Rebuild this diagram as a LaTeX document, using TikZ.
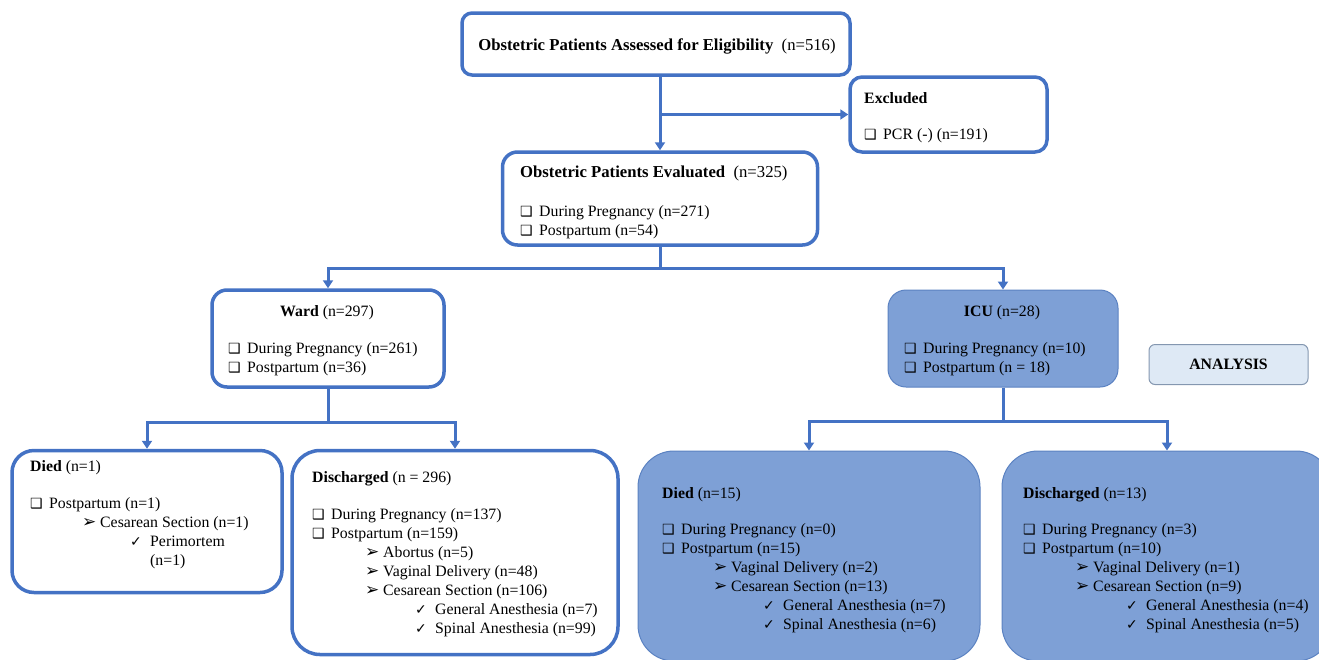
\documentclass[tikz,border=0pt]{standalone}
\usepackage{fontspec}
\setmainfont{Liberation Serif}
\newfontfamily\symfont{DejaVu Sans}
\usetikzlibrary{positioning,calc,arrows.meta}

\definecolor{boxblue}{HTML}{4472C4}
\definecolor{icufill}{HTML}{7EA0D6}
\definecolor{icuedge}{HTML}{5B82C2}
\definecolor{anafill}{HTML}{DEE9F5}
\definecolor{anaedge}{HTML}{8497B0}

% list markers
\newcommand{\sqb}{\makebox[19pt][l]{\fontsize{14}{14}\symfont ❑}}
\newcommand{\arb}{\makebox[18pt][l]{\fontsize{17}{17}\symfont ➢}}
\newcommand{\ckb}{\makebox[20pt][l]{\fontsize{14}{14}\symfont ✓}}
\newcommand{\boxlines}[1]{\begin{tabular}[t]{@{}l@{}}#1\end{tabular}}

\tikzset{
  wbox/.style={draw=boxblue, line width=3.5pt, fill=white, rounded corners=#1, inner sep=0},
  wbox/.default=12pt,
  bbox/.style={draw=icuedge, line width=1pt, fill=icufill, rounded corners=#1, inner sep=0},
  bbox/.default=15pt,
  txt/.style={inner sep=0, anchor=base west, font=\fontsize{15.8}{19}\selectfont},
  ttl/.style={inner sep=0, anchor=base, font=\fontsize{15.8}{19}\selectfont},
  big/.style={font=\fontsize{16.7}{19}\selectfont},
  conn/.style={draw=boxblue, line width=3pt},
  arr/.style={conn, -{Triangle[length=8pt,width=10pt]}},
}

\begin{document}
\begin{tikzpicture}[x=1pt, y=-1pt]
  \useasboundingbox (0,0) rectangle (1319,659);

  % boxes
  \node[wbox=10pt, minimum width=388, minimum height=62] (assess) at (656,44) {};
  \node[wbox=12pt, minimum width=197, minimum height=75] (excl) at (948.5,114.5) {};
  \node[wbox=15pt, minimum width=315, minimum height=93] (eval) at (660,198.5) {};
  \node[wbox=15pt, minimum width=232, minimum height=97] (ward) at (328,338.5) {};
  \node[bbox=18pt, minimum width=230, minimum height=97] (icu) at (1003,338.5) {};
  \node[draw=anaedge, line width=1pt, fill=anafill, rounded corners=6pt, inner sep=0,
        minimum width=159, minimum height=40] (anabox) at (1228.5,364.5) {};
  \node[wbox=22pt, minimum width=270, minimum height=142] (died) at (147,521.5) {};
  \node[wbox=28pt, minimum width=326, minimum height=204] (disch) at (455,552.5) {};
  \node[bbox=36pt, minimum width=342, minimum height=210] (died2) at (809,556) {};
  \node[bbox=36pt, minimum width=330, minimum height=210] (disch2) at (1167,556) {};

  % texts
  \node[ttl, big] (assessT) at (657,50)
    {\textbf{Obstetric Patients Assessed for Eligibility}~ (n=516)};
  \node[txt] (exclT) at (864,103)
    {\boxlines{\textbf{Excluded}\\[17pt] \sqb PCR (-) (n=191)}};
  \node[txt] (evalT) at (520,177)
    {\boxlines{{\fontsize{16.7}{19}\selectfont\textbf{Obstetric Patients Evaluated}~ (n=325)}\\[20pt]
      \sqb During Pregnancy (n=271)\\ \sqb Postpartum (n=54)}};
  \node[ttl] (wardT) at (327,316) {\textbf{Ward} (n=297)};
  \node[txt] (wardL) at (228,353)
    {\boxlines{\sqb During Pregnancy (n=261)\\ \sqb Postpartum (n=36)}};
  \node[ttl] (icuT) at (1002,316) {\textbf{ICU} (n=28)};
  \node[txt] (icuL) at (904,353)
    {\boxlines{\sqb During Pregnancy (n=10)\\ \sqb Postpartum (n = 18)}};
  \node[ttl] (anaT) at (1228.5,369) {\textbf{ANALYSIS}};
  \node[txt] (diedT) at (30,471)
    {\boxlines{\textbf{Died} (n=1)\\[18pt]
      \sqb Postpartum (n=1)\\
      \hspace*{52pt}\arb Cesarean Section (n=1)\\
      \hspace*{100pt}\ckb Perimortem\\
      \hspace*{120pt}(n=1)}};
  \node[txt] (dischT) at (312,482)
    {\boxlines{\textbf{Discharged} (n = 296)\\[18pt]
      \sqb During Pregnancy (n=137)\\
      \sqb Postpartum (n=159)\\
      \hspace*{53pt}\arb Abortus (n=5)\\
      \hspace*{53pt}\arb Vaginal Delivery (n=48)\\
      \hspace*{53pt}\arb Cesarean Section (n=106)\\
      \hspace*{103pt}\ckb General Anesthesia (n=7)\\
      \hspace*{103pt}\ckb Spinal Anesthesia (n=99)}};
  \node[txt] (died2T) at (662,498)
    {\boxlines{\textbf{Died} (n=15)\\[17pt]
      \sqb During Pregnancy (n=0)\\
      \sqb Postpartum (n=15)\\
      \hspace*{51pt}\arb Vaginal Delivery (n=2)\\
      \hspace*{51pt}\arb Cesarean Section (n=13)\\
      \hspace*{101pt}\ckb General Anesthesia (n=7)\\
      \hspace*{101pt}\ckb Spinal Anesthesia (n=6)}};
  \node[txt] (disch2T) at (1023,498)
    {\boxlines{\textbf{Discharged} (n=13)\\[17pt]
      \sqb During Pregnancy (n=3)\\
      \sqb Postpartum (n=10)\\
      \hspace*{52pt}\arb Vaginal Delivery (n=1)\\
      \hspace*{52pt}\arb Cesarean Section (n=9)\\
      \hspace*{103pt}\ckb General Anesthesia (n=4)\\
      \hspace*{103pt}\ckb Spinal Anesthesia (n=5)}};

  % connectors
  \draw[arr] (eval.north |- assess.south) -- (eval.north);
  \draw[arr] (eval.north |- excl.west) -- (excl.west);
  \coordinate (j1) at ($(eval.south)+(0,22)$);
  \draw[conn] (eval.south) -- (j1);
  \draw[arr] (j1) -| (ward.north);
  \draw[arr] (j1) -| (icu.north);
  \coordinate (j2) at ($(ward.south)+(0,34)$);
  \draw[conn] (ward.south) -- (j2);
  \draw[arr] (j2) -| (died.north);
  \draw[arr] (j2) -| (disch.north);
  \coordinate (j3) at ($(icu.south)+(0,34)$);
  \draw[conn] (icu.south) -- (j3);
  \draw[arr] (j3) -| (died2.north);
  \draw[arr] (j3) -| (disch2.north);
\end{tikzpicture}
\end{document}
